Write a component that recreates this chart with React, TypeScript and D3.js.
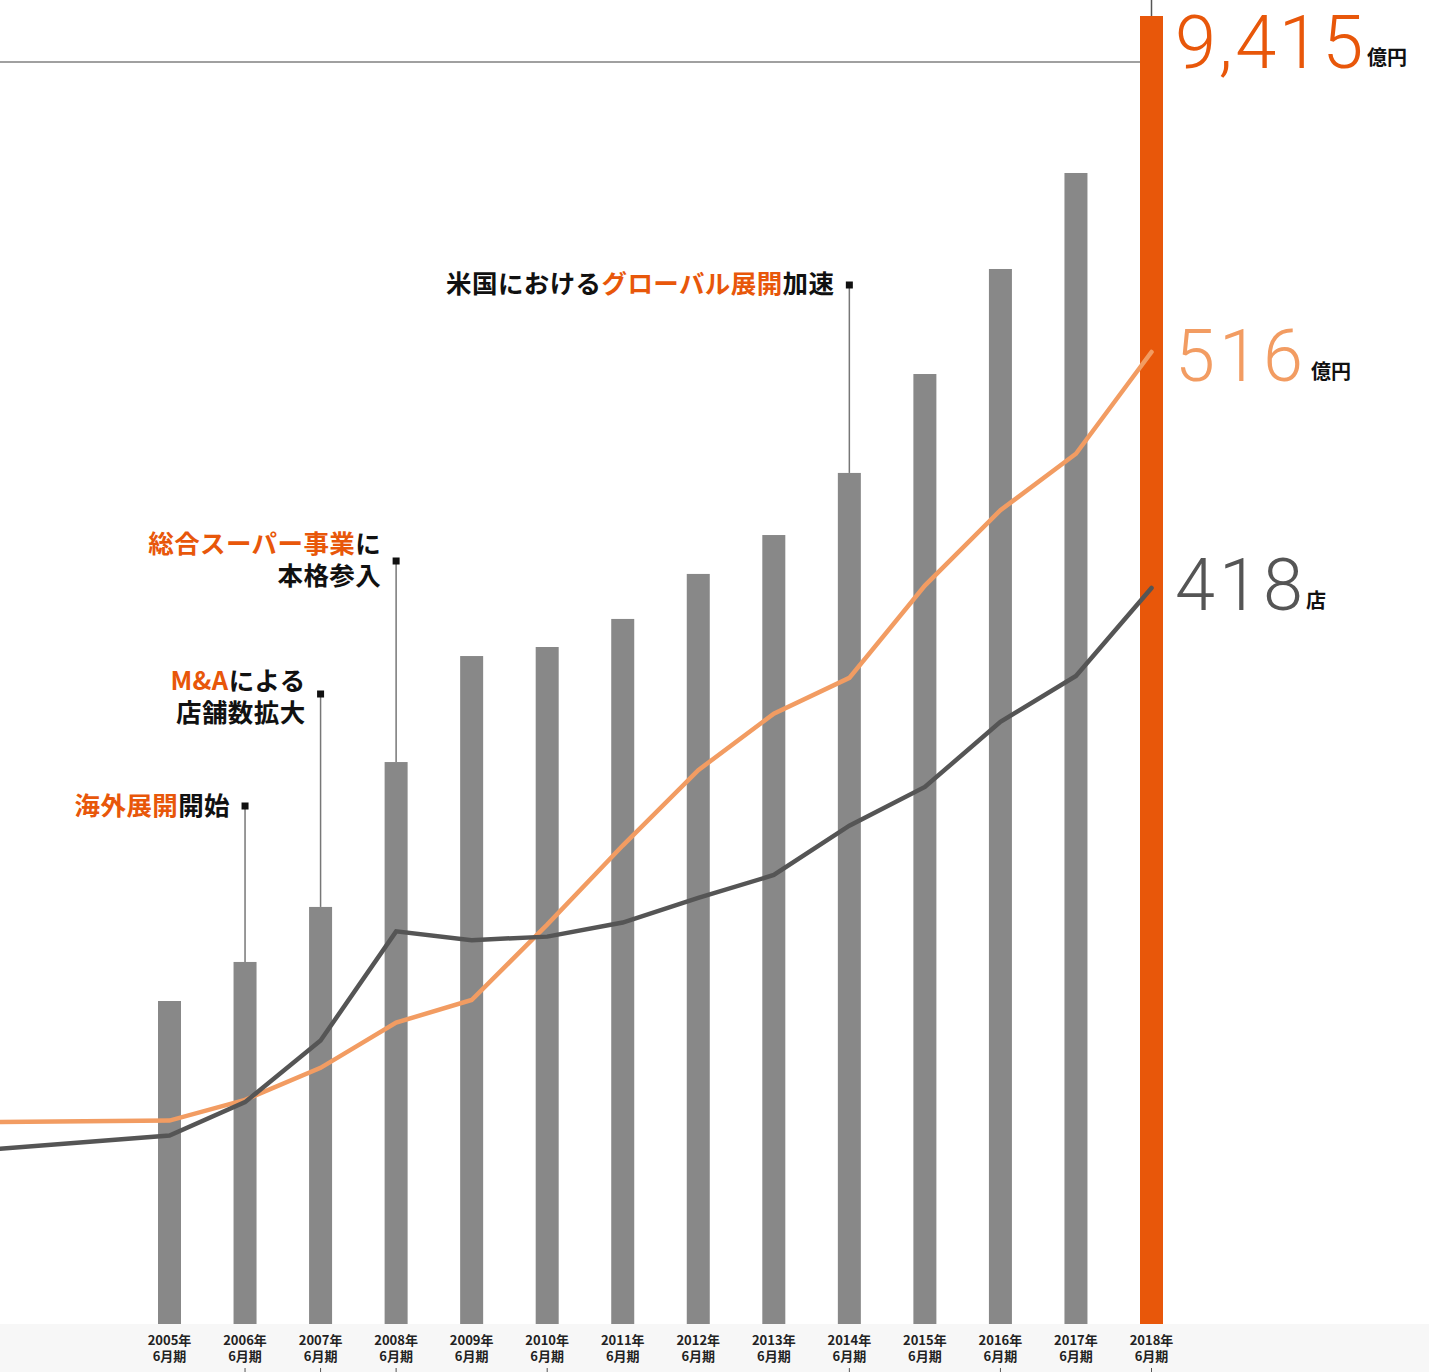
import React from "react";
import * as d3 from "d3";

const years = [2005, 2006, 2007, 2008, 2009, 2010, 2011, 2012, 2013, 2014, 2015, 2016, 2017, 2018];
const sales = [2325, 2606, 3002, 4045, 4808, 4873, 5075, 5399, 5679, 6126, 6838, 7594, 8285, 9415];
const lineYears = [2002, 2005, 2006, 2007, 2008, 2009, 2010, 2011, 2012, 2013, 2014, 2015, 2016, 2017, 2018];
const profit = [107, 108, 119, 136, 160, 172, 212, 254, 294, 324, 343, 392, 432, 462, 516];
const stores = [97, 107, 126, 161, 223, 218, 220, 228, 242, 255, 283, 305, 342, 368, 418];
const tickYears = [2006, 2007, 2008, 2010, 2014, 2016, 2018];

type Note = { year: number; topY: number; textY: number; lines: { t: string; c: string }[][] };
const notes: Note[] = [
  { year: 2006, topY: 806, textY: 815, lines: [[{ t: "海外展開", c: "o" }, { t: "開始", c: "k" }]] },
  { year: 2007, topY: 694, textY: 690, lines: [[{ t: "M&A", c: "o" }, { t: "による", c: "k" }], [{ t: "店舗数拡大", c: "k" }]] },
  { year: 2008, topY: 561, textY: 553, lines: [[{ t: "総合スーパー事業", c: "o" }, { t: "に", c: "k" }], [{ t: "本格参入", c: "k" }]] },
  { year: 2014, topY: 285, textY: 293, lines: [[{ t: "米国における", c: "k" }, { t: "グローバル展開", c: "o" }, { t: "加速", c: "k" }]] },
];

const W = 1429, H = 1372;
const BASE = 1324;
const ORANGE = "#e8570a";
const LORANGE = "#f29c62";
const DGRAY = "#555555";
const BAR = "#888888";
const JP = "'Noto Sans CJK JP', 'Noto Sans', sans-serif";
const NUM = "Roboto, 'Noto Sans', sans-serif";

export default function App() {
  const x = d3.scaleLinear().domain([2005, 2018]).range([169.5, 1151.5]);
  const yBar = d3.scaleLinear().domain([0, 9415]).range([BASE, 16]);
  const yProfit = d3.scaleLinear().domain([0, 516]).range([BASE, 352]);
  const yStores = d3.scaleLinear().domain([0, 418]).range([BASE, 588]);
  const barW = 23;

  const profitLine = d3.line<number>().x((_, i) => x(lineYears[i])).y((d) => yProfit(d))(profit) || "";
  const storesLine = d3.line<number>().x((_, i) => x(lineYears[i])).y((d) => yStores(d))(stores) || "";

  const last = years.length - 1;
  const lastX = x(years[last]);

  return (
    <svg width={W} height={H} style={{ position: "absolute", left: 0, top: 0, background: "#fff" }}>
      <rect x={0} y={BASE} width={W} height={H - BASE} fill="#f7f7f7" />
      <line x1={0} x2={lastX - barW / 2} y1={62} y2={62} stroke="#808080" strokeWidth={1.5} />
      <line x1={lastX} x2={lastX} y1={0} y2={yBar(sales[last])} stroke="#555" strokeWidth={1.5} />
      {years.map((yr, i) => (
        <rect key={yr} x={x(yr) - barW / 2} y={yBar(sales[i])} width={barW} height={BASE - yBar(sales[i])}
          fill={i === last ? ORANGE : BAR} />
      ))}
      {notes.map((n, k) => {
        const i = years.indexOf(n.year);
        const cx = x(n.year);
        const rightX = cx - 15;
        const lh = 32;
        return (
          <g key={k}>
            <line x1={cx} x2={cx} y1={n.topY} y2={yBar(sales[i])} stroke="#777" strokeWidth={1.5} />
            <rect x={cx - 3.5} y={n.topY - 3.5} width={7} height={7} fill="#111" />
            {n.lines.map((ln, j) => (
              <text key={j} x={rightX} y={n.textY + j * lh} textAnchor="end" fontFamily={JP} fontWeight={700}
                fontSize={25.5} letterSpacing={0.4}>
                {ln.map((s, m) => (
                  <tspan key={m} fill={s.c === "o" ? ORANGE : "#111"}>{s.t}</tspan>
                ))}
              </text>
            ))}
          </g>
        );
      })}
      <path d={profitLine} fill="none" stroke={LORANGE} strokeWidth={4.5} strokeLinecap="round" strokeLinejoin="miter" />
      <path d={storesLine} fill="none" stroke={DGRAY} strokeWidth={4.5} strokeLinecap="round" strokeLinejoin="miter" />
      <text x={1175} y={68} fontFamily={NUM} fontWeight={300} fontSize={74} letterSpacing={2.5} fill={ORANGE}>
        {d3.format(",")(sales[last])}
      </text>
      <text x={1367} y={65} fontFamily={JP} fontWeight={700} fontSize={20} fill="#111">億円</text>
      <text x={1175} y={381} fontFamily={NUM} fontWeight={300} fontSize={72} letterSpacing={4} fill={LORANGE}>
        {profit[profit.length - 1]}
      </text>
      <text x={1311} y={379} fontFamily={JP} fontWeight={700} fontSize={20} fill="#111">億円</text>
      <text x={1175} y={610} fontFamily={NUM} fontWeight={300} fontSize={72} letterSpacing={4} fill={DGRAY}>
        {stores[stores.length - 1]}
      </text>
      <text x={1306} y={608} fontFamily={JP} fontWeight={700} fontSize={20} fill="#111">店</text>
      {years.map((yr) => (
        <g key={yr}>
          <text x={x(yr)} y={1345} textAnchor="middle" fontFamily={JP} fontWeight={700} fontSize={13} fill="#222">{yr}年</text>
          <text x={x(yr)} y={1361} textAnchor="middle" fontFamily={JP} fontWeight={700} fontSize={13} fill="#222">6月期</text>
        </g>
      ))}
      {tickYears.map((yr) => (
        <line key={yr} x1={x(yr)} x2={x(yr)} y1={1368} y2={H} stroke="#555" strokeWidth={1} />
      ))}
    </svg>
  );
}
